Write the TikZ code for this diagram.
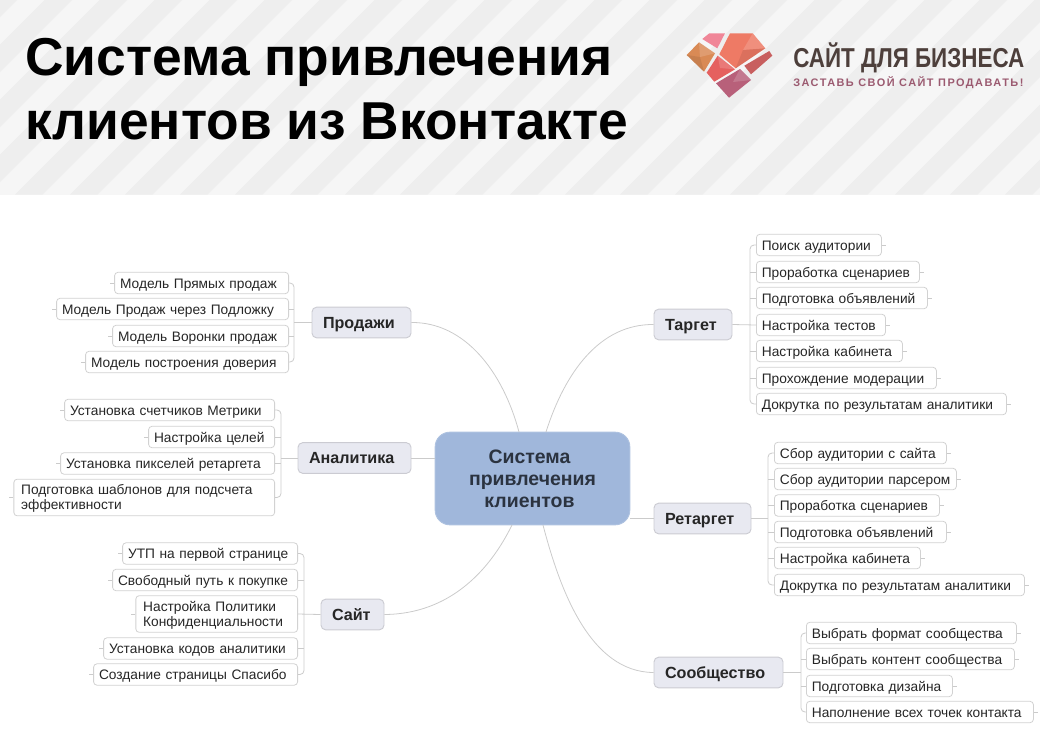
\documentclass[tikz,border=0pt]{standalone}
\usepackage{fontspec}
\setmainfont{Liberation Sans}
\newfontfamily\taglinefont[LetterSpace=13.5]{Liberation Sans}
\definecolor{bannerdark}{HTML}{EEEEEE}
\definecolor{bannerlight}{HTML}{F6F6F6}
\definecolor{twigcolor}{HTML}{CBCBCB}
\definecolor{leafedge}{HTML}{D2D2D2}
\definecolor{branchfill}{HTML}{E8E9F1}
\definecolor{branchedge}{HTML}{CBCBD2}
\definecolor{centrefill}{HTML}{A0B7DB}
\definecolor{centretext}{HTML}{2B3340}
\definecolor{logobrown}{HTML}{4D3F3B}
\definecolor{logoplum}{HTML}{9B5A70}
\tikzset{
  twig/.style={draw=twigcolor,line width=0.6pt,rounded corners=3pt},
  limb/.style={draw=twigcolor,line width=0.6pt},
  leaf/.style={draw=leafedge,line width=0.6pt,fill=white,rounded corners=2.5pt,align=left,
    inner xsep=4.1pt,inner ysep=3pt,minimum height=16pt,text height=9pt,text depth=1pt,
    text=black!85,font=\fontsize{10.3}{11.25}\selectfont},
  leafr/.style={leaf,anchor=west,text width=#1*0.75pt-8.2pt},
  leafl/.style={leaf,anchor=east,text width=#1*0.75pt-8.2pt},
  twolines/.style={inner xsep=5.5pt,inner ysep=2pt,text height=9.5pt,text depth=14pt},
  branch/.style={draw=branchedge,line width=0.7pt,fill=branchfill,rounded corners=3.5pt,
    minimum height=23pt,text width=#1*0.75pt-16.5pt,inner xsep=8.25pt,inner ysep=0pt,align=left,
    text height=10pt,text depth=1.3pt,text=black!85,
    font=\fontsize{12.1}{14}\selectfont\bfseries},
  centre/.style={draw=centrefill!85!white,line width=0.7pt,fill=centrefill,rounded corners=11pt,
    minimum width=146pt,minimum height=69.5pt,align=center,text=centretext,
    font=\fontsize{14.6}{16.4}\selectfont\bfseries},
  facet/.style={fill=white,fill opacity=0.16},
  shade/.style={fill=black,fill opacity=0.08},
}
\begin{document}
\begin{tikzpicture}[x=0.75pt,y=0.75pt,yscale=-1,xscale=1]
\useasboundingbox (0,0) rectangle (1040,754);

%Banner
\fill[bannerlight] (0,0) rectangle (1040,194.6);
\begin{scope}
\clip (0,0) rectangle (1040,194.6);
\foreach \k in {-4,...,19}
  \fill[bannerdark] (15+55*\k,194.6) -- (42.5+55*\k,194.6) -- (237.1+55*\k,0) -- (209.6+55*\k,0) -- cycle;
\end{scope}

% Text Node
\node (title) [anchor=north west,inner sep=0pt,align=left,font=\fontsize{40}{48}\selectfont\bfseries] at (25,38) {Система привлечения\\клиентов из Вконтакте};

%Logo
\fill[fill={rgb,255:red,217;green,138;blue,85}] (686.7,55) -- (699,42.3) -- (715,53.3) -- (704,71.7) -- cycle;
\fill[shade] (686.7,55) -- (700,57) -- (704,71.7) -- cycle;
\fill[facet] (699,42.3) -- (715,53.3) -- (700,57) -- cycle;
\fill[fill={rgb,255:red,240;green,134;blue,152}] (702.3,39) -- (709.3,33.3) -- (725,33.3) -- (717.3,48.3) -- cycle;
\fill[fill={rgb,255:red,238;green,122;blue,101}] (730,33.3) -- (752.7,33.3) -- (765.3,48.3) -- (735.7,68.3) -- (719.3,54.3) -- cycle;
\fill[facet] (752.7,33.3) -- (765.3,48.3) -- (743,50) -- cycle;
\fill[shade] (743,50) -- (765.3,48.3) -- (735.7,68.3) -- cycle;
\fill[fill={rgb,255:red,200;green,95;blue,95}] (744.3,65.7) -- (769.3,51) -- (772.3,55.7) -- (751,74.3) -- cycle;
\fill[fill={rgb,255:red,229;green,96;blue,95}] (717.7,55.7) -- (735,69.3) -- (714.3,81.7) -- (706.7,72.7) -- cycle;
\fill[facet] (717.7,55.7) -- (735,69.3) -- (720,68) -- cycle;
\fill[fill={rgb,255:red,184;green,96;blue,122}] (716,83.3) -- (740,69) -- (751,80) -- (729,97.7) -- cycle;
\fill[facet] (740,69) -- (751,80) -- (733,82) -- cycle;
% Text Node
\node (brand) [anchor=base west,inner sep=0pt,text=logobrown,font=\fontsize{20.5}{24}\selectfont\bfseries] at (793,67) {\scalebox{0.82}[1]{САЙТ ДЛЯ БИЗНЕСА}};
% Text Node
\node (tagline) [anchor=base west,inner sep=0pt,text=logoplum,font=\fontsize{8.2}{10}\taglinefont\bfseries] at (793,86) {ЗАСТАВЬ СВОЙ САЙТ ПРОДАВАТЬ!};

%Centre and branches
\node (core) [centre] at (532.5,478.5) {Система\hspace*{4.5pt}\\привлечения\hspace*{4.5pt}\\клиентов\hspace*{4.5pt}};
\node (sales) [branch=99] at (361.5,322.5) {Продажи};
\node (stats) [branch=113] at (354.5,458) {Аналитика};
\node (site) [branch=63] at (352.5,614.5) {Сайт};
\node (target) [branch=78] at (693,324.5) {Таргет};
\node (retarget) [branch=97] at (702.5,518.5) {Ретаргет};
\node (group) [branch=129] at (718.5,672.5) {Сообщество};

\coordinate (corenw) at (519,432);
\coordinate (corene) at (546,432);
\coordinate (coresw) at (512,525);
\coordinate (corese) at (543,525);
\coordinate (salesbus) at (294,322.5);
\coordinate (statsbus) at (281,458);
\coordinate (sitebus) at (304,614.5);
\coordinate (targetbus) at (750,324.5);
\coordinate (retargetbus) at (768,518.5);
\coordinate (groupbus) at (801,672.5);

%Leaves
\node (target1) [leafr=125] at (756,245) {Поиск аудитории};
\node (target2) [leafr=163] at (756,272) {Проработка сценариев};
\node (target3) [leafr=171] at (756,298) {Подготовка объявлений};
\node (target4) [leafr=129] at (756,325) {Настройка тестов};
\node (target5) [leafr=146] at (756,351) {Настройка кабинета};
\node (target6) [leafr=180] at (756,378) {Прохождение модерации};
\node (target7) [leafr=250] at (756,404) {Докрутка по результатам аналитики};
\node (retarget1) [leafr=172] at (774,453) {Сбор аудитории с сайта};
\node (retarget2) [leafr=182] at (774,479) {Сбор аудитории парсером};
\node (retarget3) [leafr=165] at (774,505.5) {Проработка сценариев};
\node (retarget4) [leafr=172] at (774,532) {Подготовка объявлений};
\node (retarget5) [leafr=146] at (774,558) {Настройка кабинета};
\node (retarget6) [leafr=250] at (774,585) {Докрутка по результатам аналитики};
\node (group1) [leafr=210] at (806,633) {Выбрать формат сообщества};
\node (group2) [leafr=208] at (806,659) {Выбрать контент сообщества};
\node (group3) [leafr=146] at (806,686) {Подготовка дизайна};
\node (group4) [leafr=227] at (806,712) {Наполнение всех точек контакта};
\node (sales1) [leafl=174] at (289,283) {Модель Прямых продаж};
\node (sales2) [leafl=232] at (289,309) {Модель Продаж через Подложку};
\node (sales3) [leafl=176] at (289,336) {Модель Воронки продаж};
\node (sales4) [leafl=203] at (289,362) {Модель построения доверия};
\node (stats1) [leafl=210] at (275,410) {Установка счетчиков Метрики};
\node (stats2) [leafl=126] at (275,437) {Настройка целей};
\node (stats3) [leafl=214] at (275,463.5) {Установка пикселей ретаргета};
\node (stats4) [leafl=257,twolines] at (275,497.5) {Подготовка шаблонов для подсчета\\эффективности};
\node (site1) [leafl=175] at (298,553.5) {УТП на первой странице};
\node (site2) [leafl=185] at (298,580) {Свободный путь к покупке};
\node (site3) [leafl=158,twolines] at (298,614) {Настройка Политики\\Конфиденциальности};
\node (site4) [leafl=194] at (298,648.5) {Установка кодов аналитики};
\node (site5) [leafl=204] at (298,674.5) {Создание страницы Спасибо};

%Curved Lines
\draw[limb] (sales.east) .. controls (465,322) and (503,372) .. (corenw);
\draw[limb] (target.west) .. controls (600,324) and (565,372) .. (corene);
\draw[limb] (stats.east) -- (core.west |- stats.east);
\draw[limb] (core.east |- retarget.west) -- (retarget.west);
\draw[limb] (site.east) .. controls (450,614) and (490,570) .. (coresw);
\draw[limb] (group.west) .. controls (590,672) and (560,590) .. (corese);

%Straight Lines
\draw[twig] (target1.west) -| (targetbus) |- (target7.west);
\draw[limb] (target.east) -- (target4.west);
\draw[limb] (target2.west) -- (target2.west -| targetbus) (target3.west) -- (target3.west -| targetbus) (target5.west) -- (target5.west -| targetbus) (target6.west) -- (target6.west -| targetbus);
\draw[limb] (target1.east) -- +(4,0) (target2.east) -- +(4,0) (target3.east) -- +(4,0) (target4.east) -- +(4,0) (target5.east) -- +(4,0) (target6.east) -- +(4,0) (target7.east) -- +(4,0);

\draw[twig] (retarget1.west) -| (retargetbus) |- (retarget6.west);
\draw[limb] (retarget.east) -- (retargetbus);
\draw[limb] (retarget2.west) -- (retarget2.west -| retargetbus) (retarget3.west) -- (retarget3.west -| retargetbus) (retarget4.west) -- (retarget4.west -| retargetbus) (retarget5.west) -- (retarget5.west -| retargetbus);
\draw[limb] (retarget1.east) -- +(4,0) (retarget2.east) -- +(4,0) (retarget3.east) -- +(4,0) (retarget4.east) -- +(4,0) (retarget5.east) -- +(4,0) (retarget6.east) -- +(4,0);

\draw[twig] (group1.west) -| (groupbus) |- (group4.west);
\draw[limb] (group.east) -- (groupbus);
\draw[limb] (group2.west) -- (group2.west -| groupbus) (group3.west) -- (group3.west -| groupbus);
\draw[limb] (group1.east) -- +(4,0) (group2.east) -- +(4,0) (group3.east) -- +(4,0) (group4.east) -- +(4,0);

\draw[twig] (sales1.east) -| (salesbus) |- (sales4.east);
\draw[limb] (sales.west) -- (salesbus);
\draw[limb] (sales2.east) -- (sales2.east -| salesbus) (sales3.east) -- (sales3.east -| salesbus);
\draw[limb] (sales1.west) -- +(-4,0) (sales2.west) -- +(-4,0) (sales3.west) -- +(-4,0) (sales4.west) -- +(-4,0);

\draw[twig] (stats1.east) -| (statsbus) |- (stats4.east);
\draw[limb] (stats.west) -- (statsbus);
\draw[limb] (stats2.east) -- (stats2.east -| statsbus) (stats3.east) -- (stats3.east -| statsbus);
\draw[limb] (stats1.west) -- +(-4,0) (stats2.west) -- +(-4,0) (stats3.west) -- +(-4,0) (stats4.west) -- +(-4,0);

\draw[twig] (site1.east) -| (sitebus) |- (site5.east);
\draw[limb] (site.west) -- (site3.east);
\draw[limb] (site2.east) -- (site2.east -| sitebus) (site4.east) -- (site4.east -| sitebus);
\draw[limb] (site1.west) -- +(-4,0) (site2.west) -- +(-4,0) (site3.west) -- +(-4,0) (site4.west) -- +(-4,0) (site5.west) -- +(-4,0);

\end{tikzpicture}
\end{document}
